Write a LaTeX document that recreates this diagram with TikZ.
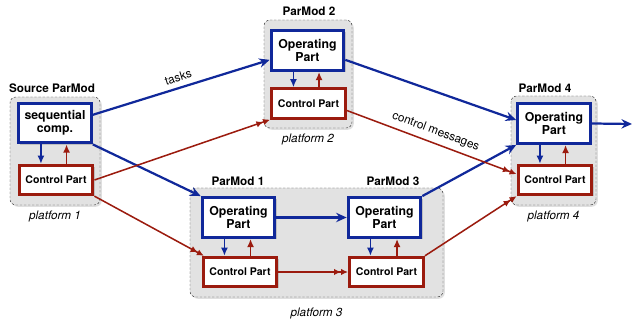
\documentclass[tikz,border=0pt]{standalone}
\usepackage{fontspec}
\setmainfont{TeX Gyre Heros}
\usepackage{xcolor}
\usepackage{tikz}
\usetikzlibrary{positioning,calc,arrows.meta,shadows,fit}
\definecolor{opblue}{HTML}{10289A}
\definecolor{cpred}{HTML}{9B1B0E}
\definecolor{platbg}{HTML}{E2E2E2}

\tikzset{
  platform/.style={draw=black!75, dash pattern=on 2pt off 1.5pt, thin, fill=platbg, rounded corners=5pt, inner sep=0pt,
    drop shadow={opacity=0.25, shadow xshift=1.5pt, shadow yshift=-1.5pt}},
  opbox/.style={draw=opblue, line width=2.6pt, fill=white, align=center, font=\fontsize{10.5}{11.5}\selectfont\bfseries,
    minimum width=62pt, minimum height=34pt, inner sep=1pt,
    drop shadow={opacity=0.35, shadow xshift=1.5pt, shadow yshift=-1.5pt}},
  cpbox/.style={draw=cpred, line width=2.6pt, fill=white, font=\fontsize{9}{10}\selectfont\bfseries,
    minimum width=63pt, minimum height=25pt, inner sep=1pt,
    drop shadow={opacity=0.35, shadow xshift=1.5pt, shadow yshift=-1.5pt}},
  modlabel/.style={font=\fontsize{10}{11}\selectfont\bfseries},
  platlabel/.style={font=\fontsize{10}{11}\selectfont\itshape},
  taskarrow/.style={draw=opblue, line width=1.9pt, -{Stealth[length=9pt,width=8pt,inset=3pt]}},
  ctlarrow/.style={draw=cpred, line width=1.3pt, -{Latex[length=6pt,width=5.5pt]Latex[length=6pt,width=5.5pt]}},
  downarrow/.style={draw=opblue, line width=1.6pt, -{Latex[length=7pt,width=6pt]}},
  uparrow/.style={draw=cpred, line width=1.6pt, -{Latex[length=7pt,width=6pt]}}
}

\begin{document}
\begin{tikzpicture}[x=0.03cm, y=-0.03cm]
  \useasboundingbox (0,0) rectangle (632,321);

  % Platforms
  \node[platform, fit={(10,97) (100,205)}] (pf1) {};
  \node[platform, fit={(264,20) (352,128)}] (pf2) {};
  \node[platform, fit={(190,188) (443,297)}] (pf3) {};
  \node[platform, fit={(511,96) (596,205)}] (pf4) {};

  \node[platlabel, below=1pt of pf1] {platform 1};
  \node[platlabel, below=1pt of pf2] {platform 2};
  \node[platlabel, below=6pt of pf3] {platform 3};
  \node[platlabel, below=1pt of pf4] {platform 4};

  % Source ParMod
  \node[opbox] (op0) at (55,123) {sequential\\comp.};
  \node[cpbox] (cp0) at (56,180) {Control Part};
  \node[modlabel] at (52,88) {Source ParMod};

  % ParMod 2
  \node[opbox] (op2) at (307.5,50.5) {Operating\\Part};
  \node[cpbox] (cp2) at (308.5,103.5) {Control Part};
  \node[modlabel] at (309,11) {ParMod 2};

  % ParMod 1 and ParMod 3
  \node[opbox] (op1) at (238.5,217.5) {Operating\\Part};
  \node[cpbox] (cp1) at (240,272) {Control Part};
  \node[modlabel] at (238,181) {ParMod 1};

  \node[opbox] (op3) at (384.5,217.5) {Operating\\Part};
  \node[cpbox] (cp3) at (386.5,272) {Control Part};
  \node[modlabel] at (393,181) {ParMod 3};

  % ParMod 4
  \node[opbox] (op4) at (554,123.5) {Operating\\Part};
  \node[cpbox] (cp4) at (555,180) {Control Part};
  \node[modlabel] at (545,88) {ParMod 4};

  % Inner arrows
  \foreach \i in {0,...,4} {
    \draw[downarrow] ([xshift=-12pt]op\i.south) -- ([xshift=-12pt]op\i.south |- cp\i.north);
    \draw[uparrow] ([xshift=9pt]cp\i.north) -- ([xshift=9pt]cp\i.north |- op\i.south);
  }

  % Tasks
  \draw[taskarrow] ([yshift=7pt]op0.east) -- node[midway, above=1pt, sloped, font=\fontsize{10}{11}\selectfont] {tasks} ([yshift=-8pt]op2.west);
  \draw[taskarrow] (op0.south east) -- (op1.north west);
  \draw[taskarrow] ([yshift=-8pt]op2.east) -- ([yshift=3pt]op4.west);
  \draw[taskarrow] (op1.east) -- (op3.west);
  \draw[taskarrow] (op3.north east) -- (op4.south west);
  \coordinate (out) at (632,124);
  \draw[taskarrow] (op4.east) -- (out);

  % Control messages
  \draw[ctlarrow] (cp0.east) -- (cp2.south west);
  \draw[ctlarrow] (cp0.south east) -- ([xshift=2pt]cp1.north west);
  \draw[ctlarrow] ([yshift=-6pt]cp2.east) -- node[midway, above=1pt, sloped, font=\fontsize{10}{11}\selectfont] {control messages} ([yshift=5pt]cp4.west);
  \draw[ctlarrow] (cp1.east) -- (cp3.west);
  \draw[ctlarrow] (cp3.north east) -- (cp4.south west);
\end{tikzpicture}
\end{document}
